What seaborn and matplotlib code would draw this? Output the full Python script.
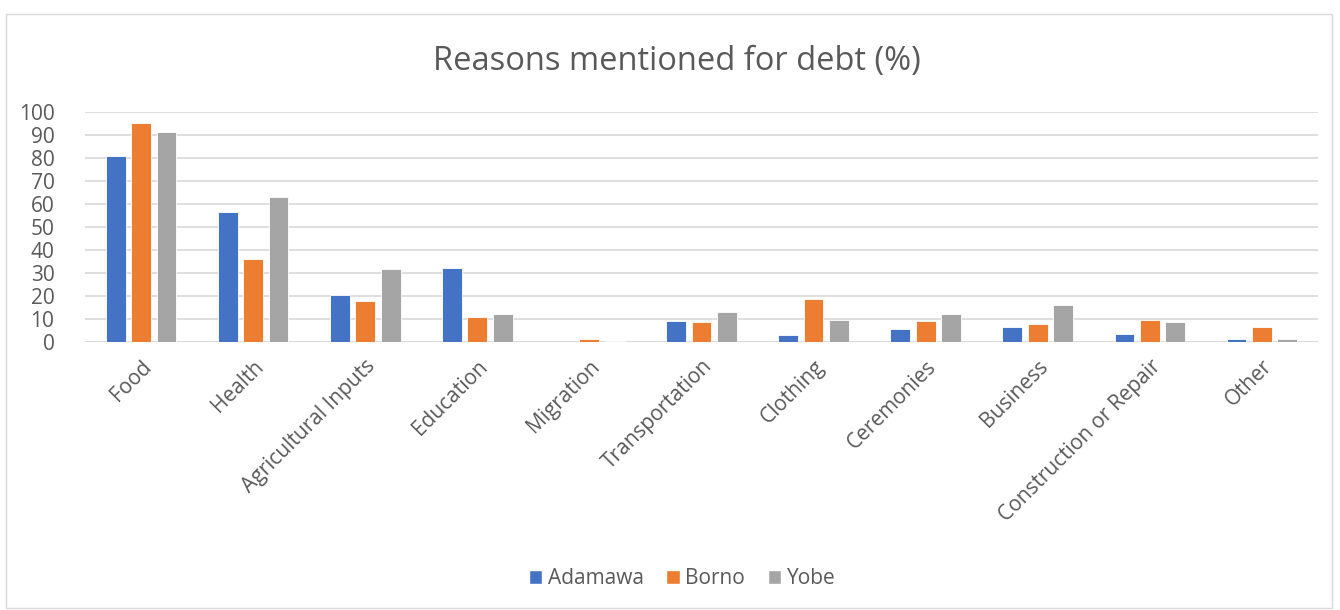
import matplotlib
matplotlib.use("Agg")
import matplotlib.pyplot as plt
import seaborn as sns
import pandas as pd
from matplotlib.patches import Rectangle

categories = ["Food", "Health", "Agricultural Inputs", "Education", "Migration",
              "Transportation", "Clothing", "Ceremonies", "Business",
              "Construction or Repair", "Other"]
adamawa = [80.7, 56.7, 20.5, 32.3, 0.0, 9.0, 3.1, 5.6, 6.7, 3.4, 1.3]
borno = [95.0, 36.3, 17.8, 11.0, 1.2, 8.8, 18.9, 9.3, 8.0, 9.5, 6.4]
yobe = [91.5, 63.1, 31.7, 12.0, 0.3, 13.0, 9.6, 12.2, 16.0, 8.6, 1.4]
series_names = ["Adamawa", "Borno", "Yobe"]
colors = ["#4472C4", "#ED7D31", "#A5A5A5"]
yticks = list(range(0, 101, 10))

rows = []
for name, vals in zip(series_names, [adamawa, borno, yobe]):
    for c, v in zip(categories, vals):
        rows.append({"Reason": c, "Region": name, "Value": v})
df = pd.DataFrame(rows)

sns.set_theme(style="white")
plt.rcParams["font.family"] = ["Open Sans", "DejaVu Sans"]

fig = plt.figure(figsize=(13.4, 6.1), dpi=100)
ax = fig.add_axes([0.0634, 0.4393, 0.9202, 0.3771])

sns.barplot(data=df, x="Reason", y="Value", hue="Region", order=categories,
            hue_order=series_names, palette=colors, width=0.68, gap=0.22,
            ax=ax, legend=False, saturation=1, edgecolor="white", linewidth=0.6)

ax.set_ylim(0, 100)
ax.set_xlim(-0.5, len(categories) - 0.5)
ax.set_yticks(yticks)
ax.set_yticklabels([str(t) for t in yticks], fontsize=15, color="#595959")
ax.yaxis.grid(True, color="#D9D9D9", linewidth=1.2)
ax.set_axisbelow(True)
for s in ["top", "right", "left", "bottom"]:
    ax.spines[s].set_visible(False)
ax.tick_params(axis="y", length=0, pad=22)
ax.tick_params(axis="x", length=0, pad=10)
ax.set_xticks(range(len(categories)))
ax.set_xticklabels(categories, rotation=45, ha="right", rotation_mode="anchor",
                   fontsize=15, color="#595959")
ax.set_xlabel("")
ax.set_ylabel("")
ax.axhline(0, color="#D9D9D9", linewidth=1.2, zorder=0.5)

fig.text(0.5052, 0.899, "Reasons mentioned for debt (%)", ha="center", va="center",
         fontsize=23.5, color="#595959")

handles = [Rectangle((0, 0), 1, 1, facecolor=c) for c in colors]
fig.legend(handles, series_names, loc="center", bbox_to_anchor=(0.509, 0.051),
           ncol=3, frameon=False, fontsize=15, handlelength=0.65, handleheight=0.65,
           handletextpad=0.25, columnspacing=1.1, labelcolor="#595959")

fig.patches.append(Rectangle((6 / 1340, 2 / 610), 1326 / 1340, 594 / 610,
                             transform=fig.transFigure, fill=False,
                             edgecolor="#D9D9D9", linewidth=1))

fig.savefig("out.png", dpi=100)
